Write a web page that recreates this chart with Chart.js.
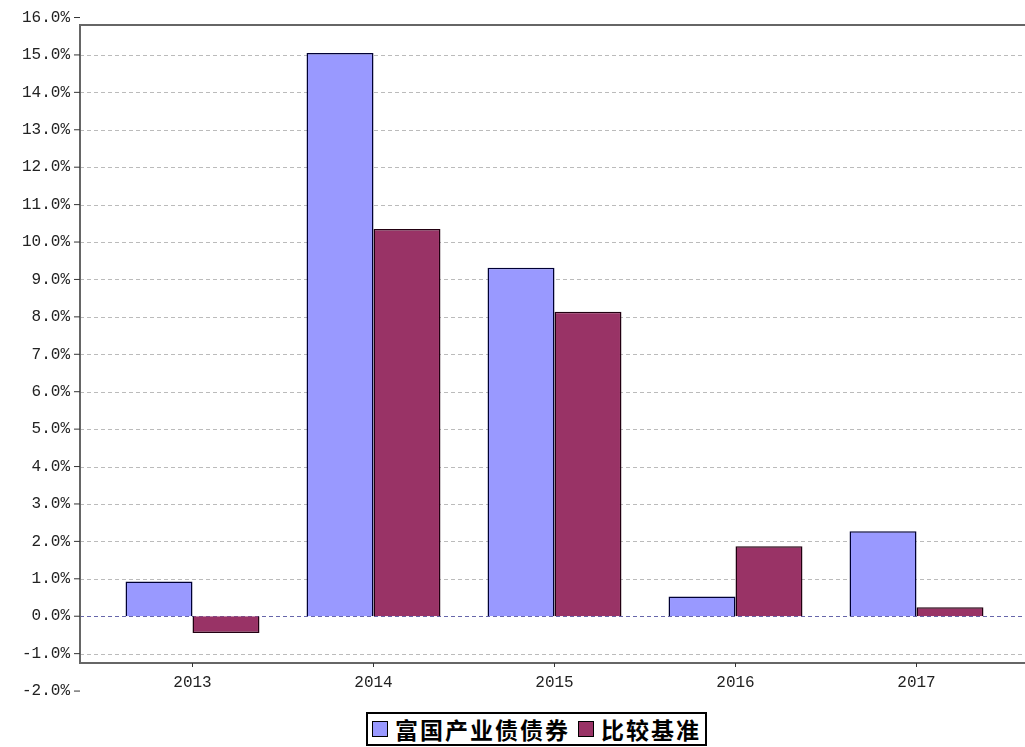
<!DOCTYPE html>
<html><head><meta charset="utf-8">
<script src="https://cdn.jsdelivr.net/npm/chart.js@4"></script>
<style>
body{margin:0;background:#fff;}
#wrap{position:relative;width:1025px;height:710px;}
#legend{position:absolute;top:712px;left:366px;border:2px solid #000;padding:1px 4px;font:bold 23px "Noto Sans CJK SC";letter-spacing:2px;display:flex;align-items:center;gap:4px;line-height:28px}
.sw{display:inline-block;width:14px;height:14px;border:1px solid #000;margin-right:3px}
</style></head><body>
<div id="wrap"><canvas id="c" width="1025" height="710"></canvas></div>
<div id="legend"><span class="sw" style="background:#9999ff"></span>富国产业债债券<span class="sw" style="background:#993366;margin-left:4px"></span>比较基准</div>
<script>
const years = ['2013','2014','2015','2016','2017'];
const fund = [0.93, 15.05, 9.31, 0.53, 2.27];
const bench = [-0.45, 10.35, 8.14, 1.87, 0.24];
const yTicks = [-2,-1,0,1,2,3,4,5,6,7,8,9,10,11,12,13,14,15,16];

const fmt = v => v.toFixed(1) + '%';
const tickFont = '16px "Liberation Mono"';

const extras = {
  id: 'extras',
  beforeDatasetsDraw(chart) {
    const {ctx, chartArea: a, scales: {y}} = chart;
    ctx.save();
    // grid lines
    ctx.setLineDash([4,3]);
    ctx.lineWidth = 1;
    yTicks.forEach(v => {
      if (v < y.min || v > y.max) return;
      const py = Math.round(y.getPixelForValue(v)) + 0.5;
      ctx.strokeStyle = v === 0 ? '#6666aa' : '#bbbbbb';
      ctx.beginPath(); ctx.moveTo(80, py); ctx.lineTo(1025, py); ctx.stroke();
    });
    ctx.restore();
  },
  afterDraw(chart) {
    const {ctx, chartArea: a, scales: {x, y}} = chart;
    ctx.save();
    ctx.strokeStyle = '#666'; ctx.lineWidth = 2;
    ctx.beginPath();
    ctx.moveTo(1025, a.top); ctx.lineTo(80, a.top); ctx.lineTo(80, a.bottom); ctx.lineTo(1025, a.bottom);
    ctx.stroke();
    ctx.lineWidth = 1; ctx.strokeStyle = '#333';
    ctx.font = tickFont; ctx.fillStyle = '#222';
    ctx.textAlign = 'right'; ctx.textBaseline = 'middle';
    yTicks.forEach(v => {
      const py = y.getPixelForValue(v);
      ctx.beginPath(); ctx.moveTo(74, py); ctx.lineTo(80, py); ctx.stroke();
      ctx.fillText(fmt(v), 70, py);
    });
    ctx.textAlign = 'center'; ctx.textBaseline = 'top';
    years.forEach((yr, i) => {
      const px = x.getPixelForValue(i);
      ctx.beginPath(); ctx.moveTo(px, a.bottom); ctx.lineTo(px, a.bottom + 4); ctx.stroke();
      ctx.fillText(yr, px, a.bottom + 12);
    });
    ctx.restore();
  }
};

new Chart(document.getElementById('c'), {
  type: 'bar',
  data: {
    labels: years,
    datasets: [
      {label: '富国产业债债券', data: fund, backgroundColor: '#9999ff', borderColor: '#000033', borderWidth: 1.5},
      {label: '比较基准', data: bench, backgroundColor: '#993366', borderColor: '#220011', borderWidth: 1.5}
    ]
  },
  options: {
    responsive: false, animation: false,
    layout: {padding: {top: 25, right: 18, left: 0, bottom: 0}},
    categoryPercentage: 0.74, barPercentage: 1,
    plugins: {legend: {display: false}, tooltip: {enabled: false}},
    scales: {
      x: {grid: {display: false}, border: {display: false}, ticks: {display: false},
          afterFit: s => { s.height = 47; }},
      y: {min: -1.25, max: 15.8, grid: {display: false}, border: {display: false},
          ticks: {display: false}, afterFit: s => { s.width = 102; }}
    }
  },
  plugins: [extras]
});
</script></body></html>
